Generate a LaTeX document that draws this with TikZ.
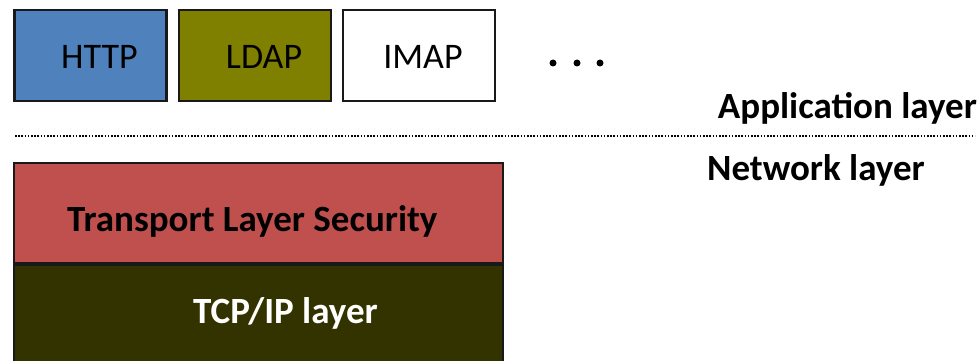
\documentclass[tikz,border=0pt]{standalone}
\usepackage{fontspec}
\setmainfont{Carlito}
\definecolor{httpblue}{HTML}{4F81BD}
\definecolor{ldapolive}{HTML}{808000}
\definecolor{tlsred}{HTML}{C0504D}
\definecolor{tcpdark}{HTML}{333300}
\tikzset{
  appbox/.style={draw=black!90, line width=2.2pt, minimum width=152pt, minimum height=91pt, inner sep=0pt},
  layerbox/.style={draw=black!90, line width=2.2pt, inner sep=0pt},
  apptext/.style={anchor=base, inner sep=0pt, font=\fontsize{36}{40}\selectfont},
  boldtext/.style={inner sep=0pt, font=\fontsize{37}{41}\selectfont\bfseries},
  sepline/.style={line width=1.6pt, dash pattern=on 1.6pt off 1.6pt},
  ellipsisdot/.style={circle, fill=black, inner sep=0pt, minimum size=7pt}
}
\begin{document}
\begin{tikzpicture}[x=1pt,y=-1pt]
  \useasboundingbox (0,0) rectangle (980,361);
  \clip (0,0) rectangle (980,361);

  % application protocols
  \node[appbox, fill=httpblue] (http) at (90.5,55.5) {};
  \node[appbox, fill=ldapolive] (ldap) at (255,55.5) {};
  \node[appbox, fill=white] (imap) at (419,55.5) {};
  \node[apptext] (httpt) at (99.5,69) {HTTP};
  \node[apptext] (ldapt) at (264,69) {LDAP};
  \node[apptext] (imapt) at (423,69) {IMAP};

  % ellipsis
  \node[ellipsisdot] (d1) at (553,63) {};
  \node[ellipsisdot] (d2) at (577,63) {};
  \node[ellipsisdot] (d3) at (600,63) {};

  % layer labels and separator
  \node[boldtext, anchor=base east] (applbl) at (977,118) {Application layer};
  \coordinate (sepL) at (15,136);
  \coordinate (sepR) at (975,136);
  \draw[sepline] (sepL) -- (sepR);
  \node[boldtext, anchor=base west] (netlbl) at (707,180) {Network layer};

  % network stack
  \node[layerbox, fill=tlsred, minimum width=489pt, minimum height=100pt] (tls) at (258.5,213) {};
  \node[layerbox, fill=tcpdark, minimum width=489pt, minimum height=110pt, anchor=north] (tcp) at (tls.south) {};
  \node[boldtext, anchor=base west] (tlst) at (67,231) {Transport Layer Security};
  \node[boldtext, anchor=base west, text=white] (tcpt) at (193,323) {TCP/IP layer};
\end{tikzpicture}
\end{document}
